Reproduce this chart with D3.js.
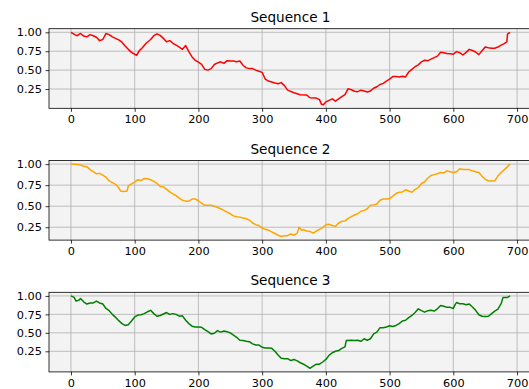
<!DOCTYPE html>
<html>
<head>
<meta charset="utf-8">
<script src="https://cdn.jsdelivr.net/npm/d3@7"></script>
<style>
  html, body { margin: 0; padding: 0; background: #fff; }
  svg { display: block; font-family: "DejaVu Sans", sans-serif; }
</style>
</head>
<body>
<div id="chart"></div>
<script>
const titles = ["Sequence 1", "Sequence 2", "Sequence 3"];
const colors = ["red", "orange", "green"];
const xTicks = [0, 100, 200, 300, 400, 500, 600, 700];
const yTicks = [0.25, 0.5, 0.75, 1.0];

const x1 = [0,6,10,15,20,25,30,35,40,45,50,55,60,65,70,75,80,85,90,95,100,103,107,112,118,125,130,135,140,145,150,155,160,165,170,175,180,185,190,195,200,205,210,215,220,225,230,235,240,245,250,255,260,265,270,275,280,285,290,295,300,305,310,320,325,330,335,340,350,360,370,375,385,390,393,396,400,405,410,415,420,425,430,435,440,445,450,455,460,465,470,475,480,485,490,495,500,505,510,515,520,525,530,535,540,545,550,555,560,565,570,575,580,585,590,595,600,605,610,615,620,625,630,635,640,645,650,655,660,665,670,675,680,684,685,689];
const y1 = [1.0,0.97,0.955,0.985,0.95,0.94,0.97,0.955,0.935,0.89,0.905,0.985,0.97,0.94,0.92,0.90,0.87,0.82,0.775,0.735,0.71,0.695,0.755,0.795,0.855,0.905,0.955,0.98,0.96,0.92,0.875,0.89,0.855,0.83,0.805,0.775,0.825,0.745,0.675,0.63,0.605,0.575,0.51,0.50,0.52,0.575,0.595,0.61,0.59,0.625,0.62,0.62,0.61,0.62,0.565,0.53,0.52,0.52,0.50,0.485,0.47,0.38,0.355,0.33,0.32,0.335,0.295,0.235,0.20,0.175,0.17,0.135,0.13,0.11,0.05,0.043,0.08,0.10,0.12,0.09,0.12,0.15,0.175,0.255,0.24,0.22,0.215,0.235,0.225,0.21,0.225,0.26,0.28,0.31,0.325,0.355,0.38,0.415,0.415,0.41,0.42,0.41,0.475,0.51,0.545,0.57,0.61,0.63,0.625,0.645,0.665,0.685,0.735,0.73,0.72,0.715,0.71,0.745,0.73,0.70,0.735,0.775,0.76,0.74,0.705,0.755,0.805,0.795,0.79,0.79,0.805,0.83,0.85,0.875,0.975,1.0];

const x2 = [0,10,15,20,25,30,35,40,45,50,55,60,65,70,75,78,82,88,90,95,100,105,110,115,120,125,130,135,140,145,150,155,160,165,170,175,180,185,190,195,200,205,210,215,220,225,230,235,240,245,250,255,260,265,270,275,280,285,290,295,300,305,310,315,320,325,330,335,340,345,350,355,358,362,365,370,375,380,385,390,395,400,405,410,415,420,425,430,435,440,445,450,455,460,465,470,475,480,485,490,495,500,505,510,515,520,525,530,535,540,545,550,555,560,565,570,575,580,585,590,595,600,605,610,615,620,625,630,635,640,645,650,655,660,665,670,675,680,685,689];
const y2 = [1.0,0.995,0.99,0.975,0.97,0.935,0.91,0.885,0.89,0.87,0.845,0.80,0.78,0.76,0.72,0.68,0.675,0.68,0.74,0.765,0.785,0.815,0.805,0.83,0.825,0.815,0.795,0.77,0.735,0.73,0.70,0.67,0.645,0.625,0.595,0.57,0.56,0.56,0.585,0.585,0.565,0.535,0.51,0.51,0.51,0.50,0.485,0.47,0.45,0.43,0.41,0.385,0.375,0.37,0.36,0.35,0.335,0.30,0.28,0.27,0.24,0.225,0.215,0.195,0.175,0.155,0.14,0.15,0.15,0.17,0.155,0.18,0.25,0.215,0.22,0.205,0.20,0.18,0.205,0.225,0.245,0.28,0.285,0.27,0.26,0.30,0.32,0.325,0.355,0.375,0.395,0.41,0.44,0.45,0.47,0.51,0.515,0.525,0.57,0.585,0.585,0.59,0.62,0.65,0.665,0.67,0.695,0.68,0.665,0.70,0.72,0.77,0.79,0.835,0.865,0.875,0.885,0.90,0.895,0.92,0.91,0.90,0.91,0.945,0.935,0.935,0.935,0.92,0.91,0.90,0.855,0.82,0.80,0.80,0.80,0.86,0.90,0.935,0.97,1.0];

const x3 = [0,5,8,12,15,20,25,30,35,40,45,50,55,60,65,70,75,80,85,90,95,100,105,110,115,120,125,130,135,140,145,150,155,160,165,170,175,180,185,190,195,200,205,210,215,220,225,230,235,240,245,250,255,260,265,270,275,280,285,290,295,300,305,310,315,320,325,330,335,340,345,350,355,360,365,370,375,380,385,390,395,400,405,410,415,420,425,430,432,440,445,450,455,460,465,470,475,480,485,490,495,500,505,510,515,520,525,530,535,540,545,550,555,560,565,570,575,580,585,590,595,600,603,605,610,615,620,625,630,635,640,645,650,655,660,665,670,675,678,682,685,689];
const y3 = [1.0,0.98,0.93,0.94,0.965,0.92,0.89,0.905,0.905,0.93,0.905,0.89,0.83,0.80,0.75,0.71,0.665,0.625,0.60,0.61,0.66,0.715,0.74,0.745,0.76,0.785,0.805,0.76,0.725,0.735,0.755,0.775,0.75,0.76,0.75,0.725,0.73,0.67,0.625,0.59,0.58,0.58,0.575,0.545,0.515,0.485,0.495,0.53,0.51,0.525,0.515,0.50,0.47,0.44,0.40,0.395,0.385,0.38,0.35,0.335,0.335,0.305,0.295,0.295,0.29,0.25,0.20,0.155,0.15,0.15,0.125,0.14,0.12,0.095,0.075,0.05,0.02,0.05,0.075,0.075,0.105,0.14,0.195,0.23,0.25,0.26,0.29,0.31,0.395,0.40,0.395,0.40,0.385,0.42,0.40,0.42,0.485,0.51,0.57,0.57,0.58,0.595,0.585,0.60,0.625,0.66,0.67,0.705,0.735,0.775,0.825,0.80,0.78,0.80,0.805,0.795,0.825,0.87,0.86,0.845,0.845,0.83,0.885,0.91,0.895,0.895,0.88,0.89,0.85,0.805,0.745,0.725,0.72,0.725,0.76,0.795,0.82,0.895,0.98,0.98,0.98,1.0];

const seriesX = [x1, x2, x3];
const seriesY = [y1, y2, y3];

const width = 529, height = 389;
const left = 49, right = 532;
const firstTop = 28.7, step = 131.8, plotH = 79.6;

const svg = d3.select("#chart").append("svg")
  .attr("width", width)
  .attr("height", height);

function drawPanel(i) {
  const xs = seriesX[i], ys = seriesY[i];
  const top = firstTop + i * step;

  const xExt = d3.extent(xs), yExt = d3.extent(ys);
  const xPad = (xExt[1] - xExt[0]) * 0.05, yPad = (yExt[1] - yExt[0]) * 0.05;

  const x = d3.scaleLinear().domain([xExt[0] - xPad, xExt[1] + xPad]).range([left, right]);
  const y = d3.scaleLinear().domain([yExt[0] - yPad, yExt[1] + yPad]).range([top + plotH, top]);

  const g = svg.append("g");

  g.append("rect")
    .attr("x", left).attr("y", top)
    .attr("width", right - left).attr("height", plotH)
    .attr("fill", "#f3f3f3");

  // grid
  g.append("g").selectAll("line").data(xTicks).enter().append("line")
    .attr("x1", d => x(d)).attr("x2", d => x(d))
    .attr("y1", top).attr("y2", top + plotH)
    .attr("stroke", "#b0b0b0").attr("stroke-width", 0.8);
  g.append("g").selectAll("line").data(yTicks).enter().append("line")
    .attr("x1", left).attr("x2", right)
    .attr("y1", d => y(d)).attr("y2", d => y(d))
    .attr("stroke", "#b0b0b0").attr("stroke-width", 0.8);

  const line = d3.line().x(d => x(d[0])).y(d => y(d[1]));
  g.append("path")
    .datum(xs.map((v, k) => [v, ys[k]]))
    .attr("d", line)
    .attr("fill", "none")
    .attr("stroke", colors[i])
    .attr("stroke-width", 1.5)
    .attr("stroke-linejoin", "round");

  // axes
  const xAxis = g.append("g")
    .attr("transform", "translate(0," + (top + plotH) + ")")
    .call(d3.axisBottom(x).tickValues(xTicks).tickSize(3.5).tickPadding(3.5).tickSizeOuter(0));
  const yAxis = g.append("g")
    .attr("transform", "translate(" + left + ",0)")
    .call(d3.axisLeft(y).tickValues(yTicks).tickFormat(d3.format(".2f")).tickSize(3.5).tickPadding(3.5).tickSizeOuter(0));

  [xAxis, yAxis].forEach(a => {
    a.select(".domain").remove();
    a.selectAll("line").attr("stroke", "#000").attr("stroke-width", 0.8);
    a.selectAll("text")
      .attr("fill", "#000")
      .style("font-family", "'DejaVu Sans', sans-serif")
      .style("font-size", "11.3px");
  });

  // spines
  g.append("rect")
    .attr("x", left).attr("y", top)
    .attr("width", right - left).attr("height", plotH)
    .attr("fill", "none")
    .attr("stroke", "#000").attr("stroke-width", 0.8);

  g.append("text")
    .attr("x", (left + right) / 2)
    .attr("y", top - 7)
    .attr("text-anchor", "middle")
    .style("font-size", "13.6px")
    .attr("fill", "#000")
    .text(titles[i]);
}

titles.forEach((t, i) => drawPanel(i));
</script>
</body>
</html>
